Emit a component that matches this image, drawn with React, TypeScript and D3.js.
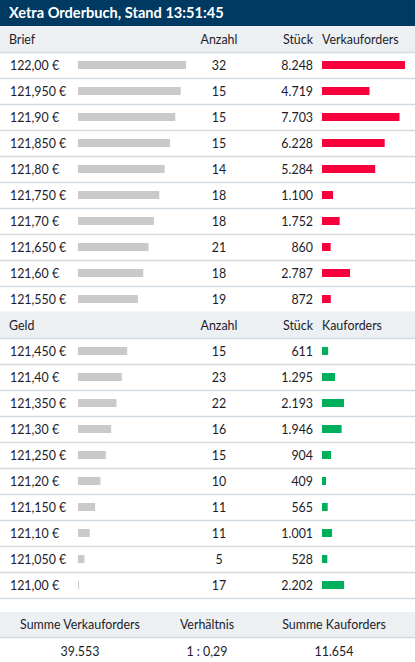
import React from "react";
import * as d3 from "d3";

// Orderbook snapshot (Xetra, 13:51:45)
const askPriceLabels = ["122,00", "121,950", "121,90", "121,850", "121,80", "121,750", "121,70", "121,650", "121,60", "121,550"];
const askCount = [32, 15, 15, 15, 14, 18, 18, 21, 18, 19];
const askShares = [8248, 4719, 7703, 6228, 5284, 1100, 1752, 860, 2787, 872];

const bidPriceLabels = ["121,450", "121,40", "121,350", "121,30", "121,250", "121,20", "121,150", "121,10", "121,050", "121,00"];
const bidCount = [15, 23, 22, 16, 15, 10, 11, 11, 5, 17];
const bidShares = [611, 1295, 2193, 1946, 904, 409, 565, 1001, 528, 2202];

const title = "Xetra Orderbuch, Stand 13:51:45";

const W = 415;
const H = 662;
const titleH = 26;
const rowH = 26;
const FONT = "Lato, 'Open Sans', sans-serif";
const TEXT = "#1c1c2a";
const LINE = "#d3dbe2";
const HEAD_BG = "#edf0f2";

const de = d3.formatLocale({ decimal: ",", thousands: ".", grouping: [3], currency: ["", " €"] });
const fmtInt = de.format(",d");
const fmtRatio = de.format(".2f");

const parsePrice = (s: string) => +s.replace(",", ".");

const allPrices = [...askPriceLabels, ...bidPriceLabels].map(parsePrice);
const priceX = d3.scaleLinear().domain([120.99, d3.max(allPrices) as number]).range([0, 108]);
const sharesX = d3.scaleLinear().domain([0, d3.max([...askShares, ...bidShares]) as number]).range([0, 83]);

const col = { price: 10, gray: 78, count: 219, shares: 313, bar: 322 };
const barH = 8;

interface SectionProps {
  y0: number;
  label: string;
  barLabel: string;
  prices: string[];
  counts: number[];
  shares: number[];
  color: string;
}

const Section: React.FC<SectionProps> = ({ y0, label, barLabel, prices, counts, shares, color }) => {
  const y = d3.scaleBand<number>().domain(d3.range(prices.length + 1)).range([y0, y0 + rowH * (prices.length + 1)]);
  const head = (y(0) as number) + rowH / 2 + 4.5;
  return (
    <g>
      <rect x={0} y={y(0)} width={W} height={rowH} fill={HEAD_BG} />
      <text x={col.price - 1} y={head} fill={TEXT}>{label}</text>
      <text x={col.count} y={head} textAnchor="middle" fill={TEXT}>Anzahl</text>
      <text x={col.shares} y={head} textAnchor="end" fill={TEXT}>Stück</text>
      <text x={col.bar} y={head} fill={TEXT}>{barLabel}</text>
      {prices.map((p, i) => {
        const top = y(i + 1) as number;
        const cy = top + rowH / 2;
        return (
          <g key={p}>
            <line x1={0} x2={W} y1={top + 0.5} y2={top + 0.5} stroke={LINE} strokeWidth={1.5} />
            <text x={col.price} y={cy + 4.5} fill={TEXT}>{p} €</text>
            <rect x={col.gray} y={cy - barH / 2} width={priceX(parsePrice(p))} height={barH} fill="#c9c9c9" />
            <text x={col.count} y={cy + 4.5} textAnchor="middle" fill={TEXT}>{counts[i]}</text>
            <text x={col.shares} y={cy + 4.5} textAnchor="end" fill={TEXT}>{fmtInt(shares[i])}</text>
            <rect x={col.bar} y={cy - barH / 2} width={sharesX(shares[i])} height={barH} fill={color} />
          </g>
        );
      })}
      <line x1={0} x2={W} y1={y0 + rowH * (prices.length + 1) + 0.5} y2={y0 + rowH * (prices.length + 1) + 0.5} stroke={LINE} strokeWidth={1.5} />
    </g>
  );
};

const App: React.FC = () => {
  const askTotal = d3.sum(askShares);
  const bidTotal = d3.sum(bidShares);
  const sumTop = 612;
  const sumCols = [80, 207, 334];
  const sumHeads = ["Summe Verkauforders", "Verhältnis", "Summe Kauforders"];
  const sumVals = [fmtInt(askTotal), `1 : ${fmtRatio(bidTotal / askTotal)}`, fmtInt(bidTotal)];
  const askTop = titleH;
  const bidTop = askTop + rowH * (askShares.length + 1);

  return (
    <div style={{ position: "absolute", left: 0, top: 0 }}>
      <svg width={W} height={H} style={{ display: "block", fontFamily: FONT, fontSize: 12.4 }}>
        <rect x={0} y={0} width={W} height={H} fill="#fff" />
        <rect x={0} y={0} width={W} height={titleH} fill="#003961" />
        <text x={9} y={18} fill="#fff" fontWeight={700} fontSize={14.6}>{title}</text>
        <Section y0={askTop} label="Brief" barLabel="Verkauforders" prices={askPriceLabels} counts={askCount} shares={askShares} color="#f8003b" />
        <Section y0={bidTop} label="Geld" barLabel="Kauforders" prices={bidPriceLabels} counts={bidCount} shares={bidShares} color="#00af5c" />
        <rect x={0} y={sumTop} width={W} height={25} fill={HEAD_BG} />
        <line x1={0} x2={W} y1={sumTop + 25.5} y2={sumTop + 25.5} stroke={LINE} strokeWidth={1.5} />
        {sumHeads.map((h, i) => (
          <text key={h} x={sumCols[i]} y={sumTop + 17} textAnchor="middle" fill={TEXT}>{h}</text>
        ))}
        {sumVals.map((v, i) => (
          <text key={i} x={sumCols[i]} y={sumTop + 43.5} textAnchor="middle" fill={TEXT}>{v}</text>
        ))}
      </svg>
    </div>
  );
};

export default App;
